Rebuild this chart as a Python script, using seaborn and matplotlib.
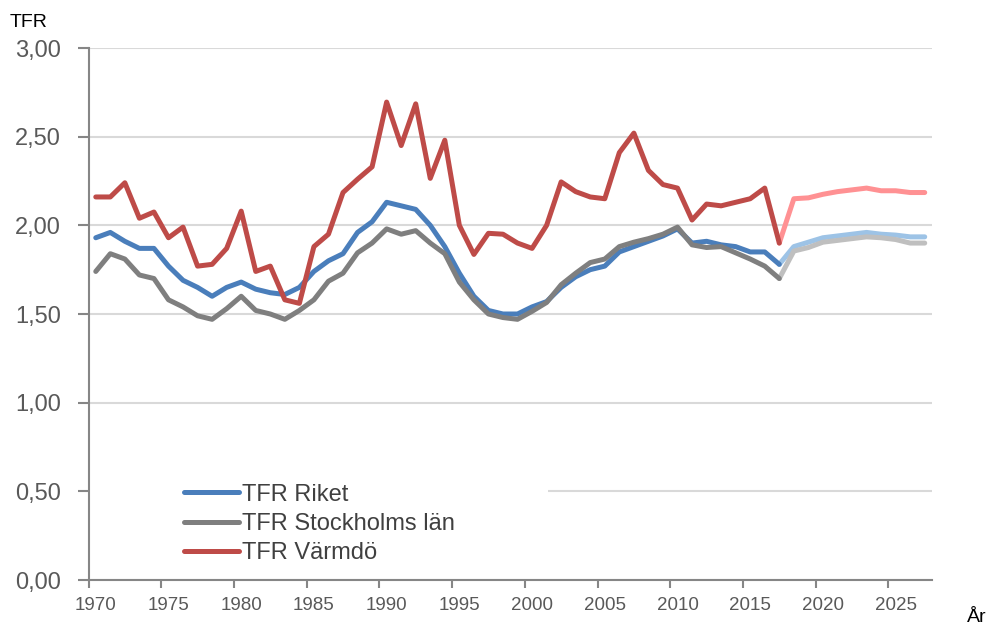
import numpy as np
import pandas as pd
import matplotlib
matplotlib.use("Agg")
import matplotlib.pyplot as plt
import seaborn as sns
from matplotlib.patches import Rectangle
from matplotlib.lines import Line2D
from matplotlib.ticker import FuncFormatter

# ---------------- data ----------------
hist_years = list(range(1970, 2018))
fc_years = list(range(2017, 2028))

riket_hist = [1.93, 1.96, 1.91, 1.87, 1.87, 1.77, 1.69, 1.65, 1.60, 1.65,
              1.68, 1.64, 1.62, 1.61, 1.65, 1.74, 1.80, 1.84, 1.96, 2.02,
              2.13, 2.11, 2.09, 2.00, 1.88, 1.73, 1.60, 1.52, 1.50, 1.50,
              1.54, 1.57, 1.65, 1.71, 1.75, 1.77, 1.85, 1.88, 1.91, 1.94,
              1.98, 1.90, 1.91, 1.89, 1.88, 1.85, 1.85, 1.78]
riket_fc = [1.78, 1.88, 1.905, 1.93, 1.94, 1.95, 1.96, 1.95, 1.945, 1.935, 1.935]

sthlm_hist = [1.74, 1.84, 1.81, 1.72, 1.70, 1.58, 1.54, 1.49, 1.47, 1.53,
              1.60, 1.52, 1.50, 1.47, 1.52, 1.58, 1.685, 1.73, 1.845, 1.90,
              1.98, 1.95, 1.97, 1.90, 1.84, 1.68, 1.58, 1.50, 1.48, 1.47,
              1.515, 1.565, 1.665, 1.73, 1.79, 1.81, 1.88, 1.905, 1.925, 1.95,
              1.99, 1.89, 1.875, 1.88, 1.845, 1.81, 1.77, 1.70]
sthlm_fc = [1.70, 1.855, 1.875, 1.905, 1.915, 1.925, 1.935, 1.93, 1.92, 1.90, 1.90]

varmdo_hist = [2.16, 2.16, 2.24, 2.04, 2.075, 1.93, 1.99, 1.77, 1.78, 1.87,
               2.08, 1.74, 1.77, 1.58, 1.56, 1.88, 1.95, 2.185, 2.26, 2.33,
               2.695, 2.45, 2.685, 2.265, 2.48, 2.00, 1.836, 1.955, 1.95, 1.90,
               1.87, 2.00, 2.245, 2.19, 2.16, 2.15, 2.41, 2.52, 2.31, 2.23,
               2.21, 2.03, 2.12, 2.11, 2.13, 2.15, 2.21, 1.90]
varmdo_fc = [1.90, 2.15, 2.155, 2.175, 2.19, 2.20, 2.21, 2.195, 2.195, 2.185, 2.185]

series_names = ["TFR Riket", "TFR Stockholms län", "TFR Värmdö"]
y_ticks = [0.0, 0.5, 1.0, 1.5, 2.0, 2.5, 3.0]
x_label_years = list(range(1970, 2030, 5))

# ---------------- styling ----------------
dark_colors = {"TFR Riket": "#4A7EBB", "TFR Stockholms län": "#7F7F7F", "TFR Värmdö": "#BE4B48"}
light_colors = {"TFR Riket": "#9DC3E6", "TFR Stockholms län": "#BFBFBF", "TFR Värmdö": "#FF9193"}

sns.set_theme(style="white")
plt.rcParams["font.family"] = ["Liberation Sans", "DejaVu Sans"]

fig = plt.figure(figsize=(9.9, 6.28), dpi=100)
ax = fig.add_axes([88.5 / 990, 1 - 580 / 628, (932 - 88.5) / 990, (580 - 48) / 628])

hist = {"TFR Riket": riket_hist, "TFR Stockholms län": sthlm_hist, "TFR Värmdö": varmdo_hist}
fc = {"TFR Riket": riket_fc, "TFR Stockholms län": sthlm_fc, "TFR Värmdö": varmdo_fc}

lw = 3.6
for name in series_names:
    dfh = pd.DataFrame({"År": hist_years, "TFR": hist[name]})
    dff = pd.DataFrame({"År": fc_years, "TFR": fc[name]})
    sns.lineplot(data=dff, x="År", y="TFR", ax=ax, color=light_colors[name], lw=lw,
                 solid_capstyle="round", solid_joinstyle="round", zorder=3)
    sns.lineplot(data=dfh, x="År", y="TFR", ax=ax, color=dark_colors[name], lw=lw,
                 solid_capstyle="round", solid_joinstyle="round", zorder=3)

# axes limits (category axis: points centred in year slots)
ax.set_xlim(1969.5, 2027.5)
ax.set_ylim(0, 3.0)

# grid
ax.set_axisbelow(True)
ax.yaxis.grid(True, color="#D9D9D9", lw=1.5)
ax.xaxis.grid(False)
ax.set_yticks(y_ticks)
ax.yaxis.set_major_formatter(FuncFormatter(lambda v, p: f"{v:.2f}".replace(".", ",")))

# x ticks: labels at centres, tick marks at slot boundaries
ax.set_xticks(x_label_years)
ax.set_xticklabels([str(y) for y in x_label_years])
ax.set_xticks([y - 0.5 for y in x_label_years], minor=True)
ax.tick_params(axis="x", which="major", length=0, pad=12, labelsize=13.5, labelcolor="#595959")
ax.tick_params(axis="x", which="minor", length=6, width=1.5, color="#868686", direction="out", bottom=True)
ax.tick_params(axis="y", which="major", length=8, width=1.5, color="#868686", direction="out",
               pad=12, labelsize=17, labelcolor="#595959", left=True)

for s in ["top", "right"]:
    ax.spines[s].set_visible(False)
for s in ["left", "bottom"]:
    ax.spines[s].set_color("#868686")
    ax.spines[s].set_linewidth(1.5)

ax.set_xlabel("")
ax.set_ylabel("")

# white legend area hiding the 0.5 gridline
ax.add_patch(Rectangle((0.002, 0.006), 0.543, 0.186, transform=ax.transAxes,
                       facecolor="white", edgecolor="none", zorder=1))

handles = [Line2D([0], [0], color=dark_colors[n], lw=lw, solid_capstyle="round") for n in series_names]
leg = ax.legend(handles, series_names, loc="upper left", bbox_to_anchor=(0.113, 0.181),
                frameon=False, fontsize=17, handlelength=2.35, handletextpad=0.12,
                labelspacing=0.31, borderpad=0, borderaxespad=0)
for t in leg.get_texts():
    t.set_color("#404040")

fig.text(10 / 990, 1 - 27 / 628, "TFR", fontsize=14, color="black", va="baseline", ha="left")
fig.text(967 / 990, 1 - 622 / 628, "År", fontsize=14, color="black", va="baseline", ha="left")

fig.savefig("out.png", dpi=100)
